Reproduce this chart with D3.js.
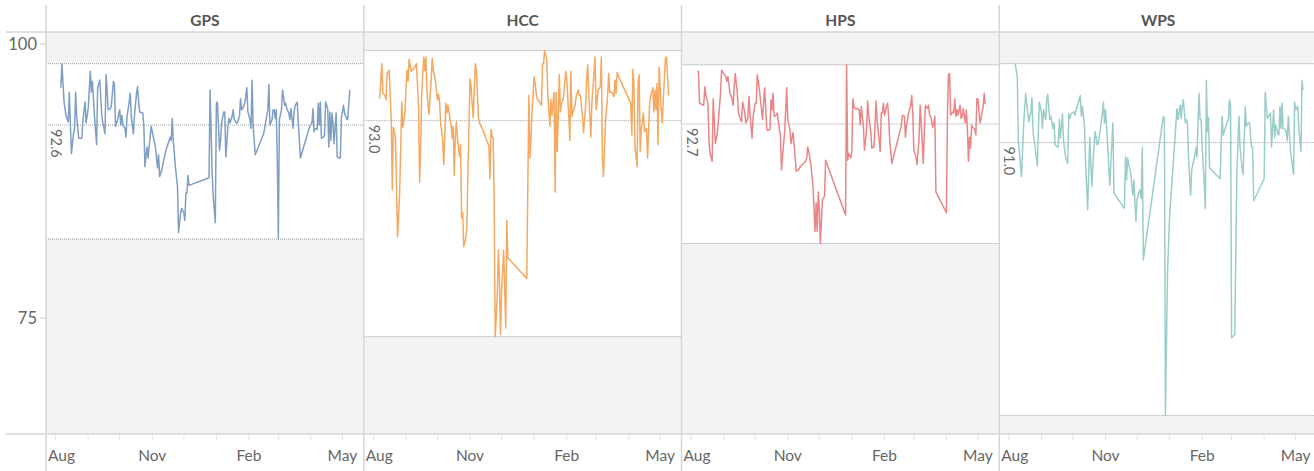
<!DOCTYPE html>
<html><head><meta charset="utf-8">
<script src="https://cdn.jsdelivr.net/npm/d3@7"></script>
<style>
body{margin:0;background:#fff;}
text{font-family:Lato,"Open Sans","DejaVu Sans",sans-serif;}
</style>
</head><body>
<svg id="chart" width="1314" height="471"></svg>
<script>
const categories = ["GPS","HCC","HPS","WPS"];
const colors = ["#7f9ec4","#f5a85f","#ea8587","#9bcdc8"];
const averages = [92.6, 93.0, 92.7, 91.0];
const yTicks = [100, 75];
const xTickLabels = ["Aug","Nov","Feb","May"];
const startDate = "2018-08-01";

const gpsDays = [5,6,8,10,12,13,15,17,18,19,20,22,24,25,26,28,29,31,33,34,35,37,39,40,42,44,45,47,48,49,50,52,53,55,56,57,59,61,62,63,64,66,67,68,70,71,72,74,75,77,78,79,80,83,84,85,87,88,89,91,93,95,97,98,99,101,103,105,108,109,110,111,112,114,116,117,119,120,122,123,124,125,126,127,146,147,149,150,152,153,154,156,157,158,160,161,162,164,165,166,168,169,170,172,173,175,176,177,178,180,181,182,183,185,186,187,188,190,198,202,203,204,206,207,208,209,210,211,212,213,215,216,218,219,220,222,223,224,226,227,228,230,231,233,241,242,244,245,246,247,249,250,251,252,253,255,256,257,259,260,261,262,263,264,265,267,268,270,271,272,274,275,277,278,280];
const gpsValues = [96.0,98.2,94.7,93.4,92.9,95.6,90.0,91.8,92.2,95.6,93.4,91.4,91.4,91.4,93.1,94.7,92.8,94.1,97.5,95.6,96.6,93.4,90.8,96.0,96.7,93.4,92.8,91.8,97.2,95.8,94.0,94.1,94.3,96.6,96.3,92.5,93.1,94.0,92.6,93.5,92.6,92.3,91.5,93.4,94.7,95.5,93.4,91.8,93.4,95.5,96.1,94.7,93.8,93.7,92.5,88.8,90.6,89.6,90.6,92.5,91.5,90.6,88.7,89.9,87.9,88.5,89.4,90.3,91.2,91.5,91.2,93.2,91.2,88.8,87.0,82.8,84.6,85.0,84.6,83.9,86.4,86.4,88.0,87.1,87.8,95.8,88.2,86.1,83.7,94.6,94.7,90.3,91.2,92.8,93.8,93.8,89.7,92.5,93.2,92.8,93.4,94.0,93.1,92.8,92.8,93.4,95.0,94.0,94.1,94.6,95.2,96.0,93.8,93.1,92.3,96.7,92.5,89.9,91.8,94.0,96.3,92.6,93.1,94.0,94.0,93.2,94.0,89.4,82.2,93.1,94.0,95.8,94.4,94.6,94.1,93.7,93.1,94.1,92.3,93.8,94.4,94.7,92.8,89.6,92.2,92.5,92.8,94.1,92.0,92.3,92.2,94.6,92.6,94.7,91.4,91.5,91.7,94.7,94.1,90.6,93.8,91.2,93.7,92.8,90.9,93.7,89.7,89.6,89.6,93.2,94.4,93.7,93.2,93.1,95.8];

const hccDays = [6,8,9,11,12,13,15,17,18,19,21,23,25,26,27,28,30,31,32,33,34,36,37,39,41,43,44,45,46,48,49,50,51,52,53,55,56,57,59,60,61,62,63,64,66,67,69,70,71,73,74,75,76,77,78,79,80,81,82,83,84,85,86,88,89,90,92,93,94,95,97,98,100,101,105,107,110,111,112,113,114,115,116,118,119,120,121,122,124,126,127,128,146,148,149,150,151,153,154,155,156,159,160,161,162,163,164,165,166,168,169,170,172,173,174,175,177,178,179,180,181,183,184,186,187,188,189,190,192,193,195,196,197,199,200,202,203,204,205,207,208,210,211,212,213,214,216,217,218,219,221,223,224,225,227,229,230,231,232,235,245,246,247,248,249,251,252,253,254,255,257,258,260,261,263,264,266,267,268,269,270,271,272,274,275,276,278,279,281];
const hccValues = [95.0,98.2,95.5,95.3,94.9,97.3,97.6,93.1,86.7,92.4,91.5,82.4,86.4,90.3,94.7,92.4,93.7,95.8,97.6,96.6,98.6,97.5,97.6,97.8,98.2,94.3,87.4,90.6,95.5,98.8,97.6,98.8,95.8,94.4,93.6,96.7,98.7,97.6,96.7,95.8,94.9,95.4,94.7,92.8,91.2,89.0,94.6,93.7,94.4,93.1,92.6,91.4,92.5,88.0,91.5,92.9,91.5,90.6,89.7,90.8,84.1,84.6,81.5,82.3,83.3,88.2,96.8,96.1,94.6,93.3,98.2,97.6,93.3,92.8,92.0,91.4,90.7,87.7,92.2,91.5,91.5,85.8,73.3,77.3,81.2,78.5,73.5,77.3,81.2,74.1,83.9,80.5,78.6,95.3,89.6,91.2,93.7,97.0,96.4,95.5,95.0,94.6,94.4,98.2,98.2,99.4,99.0,98.6,95.5,92.5,94.9,93.5,95.6,86.5,95.6,90.2,97.2,93.8,94.6,94.7,95.2,97.5,96.9,93.4,91.2,97.5,93.4,93.8,94.4,95.2,95.8,95.3,95.3,93.5,91.9,94.3,96.7,98.1,95.6,91.5,94.7,97.3,98.8,94.0,94.9,95.8,96.1,98.8,89.6,87.9,93.1,95.3,97.3,95.6,95.6,95.2,96.7,95.5,97.4,96.7,94.6,91.7,97.7,96.4,90.6,88.8,96.4,97.2,90.2,92.2,93.7,92.0,92.3,89.6,94.6,95.3,96.0,93.8,95.8,94.0,96.4,90.8,97.9,94.0,92.8,95.0,98.7,98.8,95.3];

const hpsDays = [6,7,8,10,12,13,14,16,17,18,20,21,22,23,25,26,28,29,31,33,34,35,36,37,39,40,41,42,44,45,47,48,49,51,52,54,55,56,58,59,61,62,63,65,67,68,69,70,72,73,75,76,77,78,79,81,82,84,85,86,88,89,91,92,94,95,97,98,100,102,104,107,109,110,111,112,114,116,118,119,120,121,122,123,125,127,128,147,148,149,150,152,153,154,155,156,158,160,161,162,164,165,167,168,169,171,172,174,175,176,177,179,180,181,182,183,184,186,187,188,189,191,200,201,203,204,205,207,209,210,211,212,214,215,217,218,219,221,222,223,225,226,227,228,230,231,232,233,243,244,245,246,247,249,250,251,252,253,254,256,257,258,259,261,262,263,264,265,266,267,268,270,271,272,273,275,276,278,279,280];
const hpsValues = [97.4,97.5,94.6,94.5,94.4,96.1,95.3,94.6,91.2,90.0,89.3,95.0,93.2,90.9,91.9,93.1,95.5,97.6,97.3,97.0,96.6,97.0,96.3,95.5,95.0,94.4,96.1,97.3,95.5,93.7,93.1,92.9,94.7,93.8,92.8,93.2,95.2,93.7,91.4,93.4,94.6,94.6,97.2,95.8,94.0,93.1,94.6,96.0,92.2,92.1,92.2,94.9,94.0,95.5,93.4,93.5,93.7,92.2,91.7,88.5,90.9,91.9,96.0,93.1,92.2,90.9,91.9,90.9,88.4,88.5,88.8,89.1,89.3,89.6,90.6,90.2,89.0,87.0,82.9,85.5,82.9,86.5,85.0,81.8,85.8,86.1,89.4,84.4,98.1,89.4,90.0,89.6,90.3,95.0,94.3,94.1,94.1,94.0,92.6,94.3,92.5,90.3,92.2,94.8,93.4,92.0,90.5,90.6,92.5,94.8,93.1,91.2,90.2,93.7,93.7,94.6,93.5,94.3,94.6,93.4,91.2,89.1,92.5,93.5,93.4,91.5,92.6,93.7,94.4,95.3,93.5,90.3,89.7,89.0,91.4,94.4,92.8,89.1,92.2,94.4,94.1,94.4,93.5,93.4,92.4,92.8,93.4,86.5,84.6,93.7,97.2,97.3,93.5,93.8,93.7,95.0,93.4,94.0,93.5,94.4,93.2,93.4,94.1,92.8,94.0,92.2,89.3,91.5,90.5,92.6,92.4,92.2,91.7,95.0,95.0,92.8,93.2,94.3,95.5,94.5];

const wpsDays = [6,8,9,12,14,16,18,19,21,22,23,25,27,29,31,32,33,35,36,37,39,40,42,43,44,46,47,48,49,51,52,54,56,57,58,60,62,63,64,66,68,69,70,72,73,75,77,78,79,80,82,83,84,85,87,89,90,91,92,94,96,97,99,100,110,111,112,113,114,116,117,118,119,120,121,122,124,125,126,127,128,147,148,149,151,153,160,161,163,164,165,166,168,169,170,171,173,174,176,178,179,181,182,183,184,186,187,188,189,190,191,201,203,204,205,207,208,209,210,211,212,215,216,217,219,220,222,223,225,226,228,229,231,232,233,243,244,246,248,249,250,252,253,254,256,257,258,259,260,261,263,264,265,266,268,270,271,272,273,275,276,277,278,279,280];
const wpsValues = [98.2,97.0,91.2,87.9,92.5,95.5,93.7,92.9,93.8,95.1,91.9,90.6,88.9,94.7,93.8,92.3,94.0,93.1,94.9,95.4,93.1,93.4,92.3,92.8,90.8,90.6,90.6,93.1,91.4,93.6,91.2,89.7,89.1,93.7,93.2,93.7,93.8,93.5,94.0,94.6,95.3,93.4,94.3,92.5,89.1,84.9,91.5,88.8,87.0,89.1,92.0,91.5,90.8,90.9,92.2,93.7,94.7,92.8,94.0,90.8,87.1,89.1,92.8,86.4,85.0,89.7,87.6,89.6,89.1,88.2,87.1,86.2,87.6,85.5,83.8,85.8,86.5,86.7,85.9,90.6,80.3,93.4,93.2,66.1,79.1,84.3,94.1,93.1,94.4,93.2,94.3,94.9,92.8,93.1,92.7,89.6,86.2,88.5,89.4,90.5,89.7,95.5,93.1,93.1,90.6,87.3,85.0,96.7,92.0,93.3,88.7,87.7,93.4,91.7,92.0,92.6,92.9,93.1,94.9,94.4,73.2,73.5,80.9,88.2,93.4,90.6,88.7,88.1,94.3,92.5,92.8,92.8,90.6,90.6,85.7,87.7,95.6,93.2,93.5,93.7,90.6,94.0,91.5,92.6,91.8,91.7,94.3,92.3,94.6,92.3,92.2,91.9,91.2,93.4,90.3,88.8,88.1,94.7,94.0,94.3,92.2,91.2,90.2,96.7,95.8];

const seriesDays = [gpsDays, hccDays, hpsDays, wpsDays];
const seriesValues = [gpsValues, hccValues, hpsValues, wpsValues];

const W = 1314, H = 471;
const plotTop = 32, plotBottom = 434, leftEdge = 46;
const svg = d3.select("#chart");
const base = d3.timeParse("%Y-%m-%d")(startDate);

const panel = d3.scaleBand().domain(categories).range([leftEdge, 1317]).paddingInner(0).paddingOuter(0);
const pw = panel.bandwidth();
const x = d3.scaleTime()
  .domain([new Date(2018,6,22,20), new Date(2019,4,21,7)])
  .range([0, pw]);
const y = d3.scaleLinear().domain([64.42, 101.09]).range([plotBottom, plotTop]);

const lineGen = d3.line().x(d => x(d.date)).y(d => y(d.value));

const defs = svg.append("defs");

categories.forEach((cat, i) => {
  const data = seriesDays[i].map((dd, k) => ({date: d3.timeDay.offset(base, dd), value: seriesValues[i][k]}));
  const vMin = d3.min(data, d => d.value), vMax = d3.max(data, d => d.value);
  const x0 = panel(cat);
  const w = Math.min(pw, W - x0);
  const g = svg.append("g").attr("transform", `translate(${x0},0)`);
  defs.append("clipPath").attr("id", "clip" + i)
    .append("rect").attr("x", 0).attr("y", plotTop).attr("width", w).attr("height", plotBottom - plotTop);

  g.append("rect").attr("x", 0).attr("y", plotTop).attr("width", w).attr("height", plotBottom - plotTop).attr("fill", "#f3f3f3");
  g.append("rect").attr("x", 0).attr("y", y(vMax)).attr("width", w).attr("height", y(vMin) - y(vMax)).attr("fill", "#ffffff");

  [vMax, averages[i], vMin].forEach(v => {
    g.append("line").attr("x1", 0).attr("x2", w).attr("y1", y(v)).attr("y2", y(v))
      .attr("stroke", "#a0a0a0").attr("stroke-width", 1).attr("stroke-dasharray", "1,1");
  });

  g.append("path").datum(data).attr("d", lineGen)
    .attr("fill", "none").attr("stroke", colors[i]).attr("stroke-width", 1.5)
    .attr("stroke-linejoin", "round").attr("clip-path", `url(#clip${i})`);

  g.append("text").attr("transform", `translate(5,${y(averages[i]) + 4}) rotate(90)`)
    .attr("font-size", 14.5).attr("fill", "#6a6a6a").text(d3.format(".1f")(averages[i]));

  g.append("text").attr("x", pw / 2).attr("y", 26)
    .attr("text-anchor", "middle").attr("font-size", 15.5).attr("font-weight", 700)
    .attr("fill", "#555").text(cat);

  const months = d3.timeMonth.range(x.domain()[0], x.domain()[1]);
  months.forEach(m => {
    g.append("line").attr("x1", x(m)).attr("x2", x(m)).attr("y1", plotBottom).attr("y2", plotBottom + 6)
      .attr("stroke", "#e4e4e4").attr("stroke-width", 1);
  });
  const fmt = d3.timeFormat("%b");
  months.filter(m => xTickLabels.includes(fmt(m))).forEach(m => {
    const t = g.append("text").attr("y", 461).attr("font-size", 15.5).attr("fill", "#666").text(fmt(m));
    const tw = t.node().getComputedTextLength();
    let lx = x(m) - tw / 2;
    if (lx < 2) lx = 2;
    if (lx + tw > pw - 3) lx = pw - 3 - tw;
    t.attr("x", lx);
  });
});

const frame = svg.append("g").attr("stroke", "#d6d6d6").attr("stroke-width", 1.5);
frame.append("line").attr("x1", 6).attr("x2", W).attr("y1", plotTop).attr("y2", plotTop);
frame.append("line").attr("x1", 6).attr("x2", W).attr("y1", plotBottom).attr("y2", plotBottom);
categories.forEach(cat => {
  frame.append("line").attr("x1", panel(cat)).attr("x2", panel(cat)).attr("y1", 5).attr("y2", H);
});

yTicks.forEach(v => {
  svg.append("line").attr("x1", 40).attr("x2", leftEdge).attr("y1", y(v)).attr("y2", y(v))
    .attr("stroke", "#cfcfcf").attr("stroke-width", 1);
  svg.append("text").attr("x", 37).attr("y", y(v)).attr("dy", "0.35em").attr("text-anchor", "end")
    .attr("font-size", 16.5).attr("fill", "#666").text(v);
});
</script>
</body></html>
